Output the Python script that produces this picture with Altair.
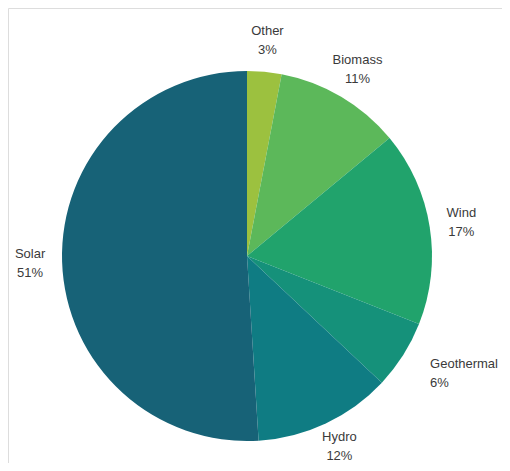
import altair as alt
import pandas as pd

sources = ["Other", "Biomass", "Wind", "Geothermal", "Hydro", "Solar"]
shares = [3, 11, 17, 6, 12, 51]
colors = ["#9cc13f", "#5cb85a", "#21a36c", "#15917a", "#0f7c83", "#176277"]

df = pd.DataFrame({
    "source": sources,
    "share": shares,
    "idx": list(range(len(sources))),
})
df["label"] = df["source"] + "\n" + df["share"].astype(str) + "%"

CX, CY = 239, 248

base = alt.Chart(df).encode(
    theta=alt.Theta("share:Q", stack=True),
    order=alt.Order("idx:Q"),
)

pie = base.mark_arc(outerRadius=185, strokeWidth=0).encode(
    x=alt.value(CX), y=alt.value(CY),
    color=alt.Color("source:N", scale=alt.Scale(domain=sources, range=colors), legend=None),
)

txt_common = dict(lineBreak="\n", font="Liberation Sans", fontSize=13, lineHeight=19,
                  color="#3a3a3a", baseline="middle")

is_geo = alt.datum.source == "Geothermal"
is_hydro = alt.datum.source == "Hydro"

labels = base.mark_text(radius=217, align="center", dy=-9, **txt_common).encode(
    x=alt.value(CX), y=alt.value(CY),
    text="label:N",
    opacity=alt.condition(is_geo | is_hydro, alt.value(0), alt.value(1)),
)

geo = base.mark_text(radius=218, align="left", dx=-1, dy=-9, **txt_common).encode(
    x=alt.value(CX), y=alt.value(CY),
    text="label:N",
    opacity=alt.condition(is_geo, alt.value(1), alt.value(0)),
)

hydro = base.mark_text(radius=217, align="center", dy=-15, **txt_common).encode(
    x=alt.value(CX), y=alt.value(CY),
    text="label:N",
    opacity=alt.condition(is_hydro, alt.value(1), alt.value(0)),
)

chart = alt.layer(pie, labels, geo, hydro).properties(
    width=494, height=455, autosize=alt.AutoSizeParams(type="none"), padding=0,
).configure_view(strokeWidth=0, stroke="transparent").configure(background="white")

chart.save("out.html", embed_options={"renderer": "svg", "actions": False})
